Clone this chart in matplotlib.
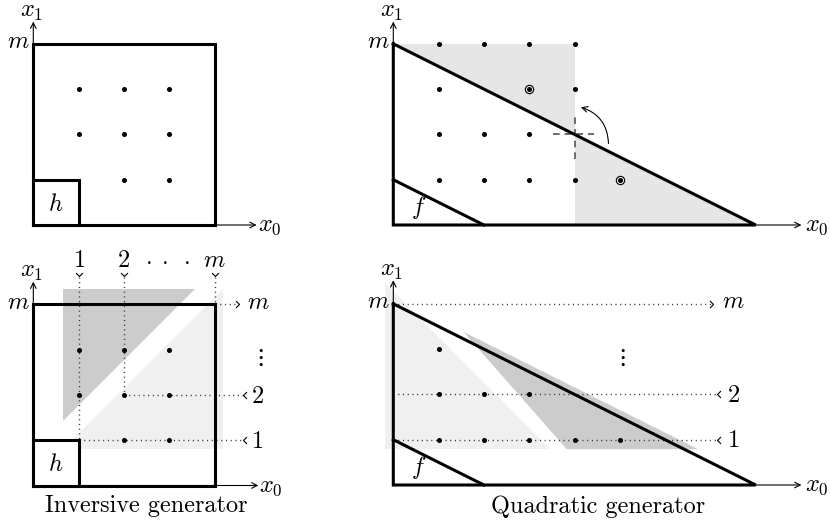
import matplotlib
matplotlib.use("Agg")
import matplotlib.pyplot as plt
from matplotlib.path import Path
from matplotlib.patches import FancyArrowPatch, Rectangle

plt.rcParams['mathtext.fontset'] = 'cm'

# ---------------- data ----------------
M = 4
# top-left (inversive, plain)
tl_dots_x = [1, 2, 3, 1, 2, 3, 2, 3]
tl_dots_y = [3, 3, 3, 2, 2, 2, 1, 1]
# top-right (quadratic, plain)
tr_dots_x = [1, 2, 3, 4, 1, 4, 1, 2, 3, 1, 2, 3, 4]
tr_dots_y = [4, 4, 4, 4, 3, 3, 2, 2, 2, 1, 1, 1, 1]
tr_circ_x = [3, 5]
tr_circ_y = [3, 1]
tr_shade1_x = [0, 4, 4]
tr_shade1_y = [4, 4, 2]
tr_shade2_x = [4, 4, 8]
tr_shade2_y = [2, 0, 0]
# bottom-left (inversive, traversal)
bl_dots_x = [1, 2, 3, 1, 2, 3, 2, 3]
bl_dots_y = [3, 3, 3, 2, 2, 2, 1, 1]
bl_idx = [1, 2, 4]
bl_labels = ['$1$', '$2$', '$m$']
bl_light_x = [0.66, 4.19, 4.19]
bl_light_y = [0.81, 0.81, 4.34]
bl_dark_x = [0.66, 0.66, 3.58]
bl_dark_y = [1.43, 4.34, 4.34]
# bottom-right (quadratic, traversal)
br_dots_x = [1, 1, 2, 3, 1, 2, 3, 4, 5]
br_dots_y = [3, 2, 2, 2, 1, 1, 1, 1, 1]
br_rows = [1, 2, 4]
br_labels = ['$1$', '$2$', '$m$']
br_light_x = [-0.18, -0.18, 3.46]
br_light_y = [4.45, 0.79, 0.79]
br_dark_x = [1.55, 3.83, 6.73]
br_dark_y = [3.38, 0.79, 0.79]
# triangle for quadratic generator: x0/2 + x1 <= m ; f: x0/2 + x1 <= 1
tri_x = [0, 0, 2 * M, 0]
tri_y = [M, 0, 0, M]
f_x = [0, 2]
f_y = [1, 0]

# ---------------- layout ----------------
W, H, DPI = 830, 522, 100
u = 45.3
fig = plt.figure(figsize=(W / DPI, H / DPI), dpi=DPI)

def panel(ox, oy, xmin, xmax, ymin, ymax):
    left = (ox + xmin * u) / W
    bot_px = oy - ymin * u
    ax = fig.add_axes([left, 1 - bot_px / H, (xmax - xmin) * u / W, (ymax - ymin) * u / H])
    ax.set_xlim(xmin, xmax)
    ax.set_ylim(ymin, ymax)
    ax.axis('off')
    return ax

FS = 17.5
THICK = 2.2
DOT = 2.6
dotted = (0, (0.8, 2.6))

def chevron(kind):
    if kind == 'v':
        v = [(-1, 1), (0, 0), (1, 1)]
    elif kind == '<':
        v = [(1, 1), (0, 0), (1, -1)]
    else:
        v = [(-1, 1), (0, 0), (-1, -1)]
    return Path(v, [Path.MOVETO, Path.LINETO, Path.LINETO])

def mark(ax, x, y, kind):
    ax.plot([x], [y], marker=chevron(kind), ms=5, mfc='none', mec='k', mew=0.8,
            ls='none', zorder=5, clip_on=False)

def axes_arrows(ax, xend, yend, xlab_x):
    ax.annotate('', xy=(xend, 0), xytext=(0, 0),
                arrowprops=dict(arrowstyle='->', lw=0.8, color='k', shrinkA=0, shrinkB=0,
                                mutation_scale=10), zorder=2)
    ax.annotate('', xy=(0, yend), xytext=(0, 0),
                arrowprops=dict(arrowstyle='->', lw=0.8, color='k', shrinkA=0, shrinkB=0,
                                mutation_scale=10), zorder=2)
    ax.text(xlab_x, 0, '$x_0$', fontsize=FS, ha='left', va='center')
    ax.text(-0.03, yend + 0.1, '$x_1$', fontsize=FS, ha='center', va='baseline')
    ax.text(-0.09, M - 0.1, '$m$', fontsize=FS, ha='right', va='baseline')

def box_panel(ax):
    ax.plot([0, M, M, 0, 0], [0, 0, M, M, 0], color='k', lw=THICK, zorder=6,
            solid_joinstyle='miter', clip_on=False)
    ax.add_patch(Rectangle((0, 0), 1, 1, facecolor='white', edgecolor='k', lw=THICK,
                           zorder=6, joinstyle='miter', clip_on=False))
    ax.text(0.5, 0.47, '$h$', fontsize=FS, ha='center', va='center', zorder=7)

def tri_panel(ax):
    ax.plot(tri_x, tri_y, color='k', lw=THICK, zorder=6, solid_joinstyle='miter',
            clip_on=False)
    ax.plot(f_x, f_y, color='k', lw=THICK, zorder=6, clip_on=False)
    ax.text(0.57, 0.38, '$f$', fontsize=FS, ha='center', va='center', zorder=7)

# ---- top-left ----
ax = panel(33.3, 225, -0.74, 6.2, -0.3, 4.95)
box_panel(ax)
ax.plot(tl_dots_x, tl_dots_y, 'o', color='k', ms=DOT, zorder=8)
axes_arrows(ax, 4.93, 4.49, 4.97)

# ---- top-right ----
ax = panel(393.3, 225, -0.8, 9.6, -0.3, 4.95)
ax.fill(tr_shade1_x, tr_shade1_y, color='#e6e6e6', lw=0, zorder=1)
ax.fill(tr_shade2_x, tr_shade2_y, color='#e6e6e6', lw=0, zorder=1)
tri_panel(ax)
ax.plot(tr_dots_x, tr_dots_y, 'o', color='k', ms=DOT, zorder=8)
ax.plot(tr_circ_x, tr_circ_y, 'o', mfc='none', mec='k', ms=6, mew=0.8, zorder=8)
ax.plot(tr_circ_x, tr_circ_y, 'o', color='k', ms=2.6, zorder=8)
ax.plot([3.53, 4.43], [2, 2], color='#555555', lw=1.2, ls=(0, (4, 3)), zorder=5)
ax.plot([4, 4], [1.45, 2.4], color='#555555', lw=1.2, ls=(0, (4, 3)), zorder=5)
ax.add_patch(FancyArrowPatch((4.75, 1.8), (4.14, 2.6), connectionstyle='arc3,rad=0.35',
                             arrowstyle='->', mutation_scale=10, lw=0.8, color='k',
                             shrinkA=0, shrinkB=0, zorder=7))
axes_arrows(ax, 9.01, 4.49, 9.09)

# ---- bottom-left ----
ax = panel(33.3, 485.5, -0.74, 6.2, -0.8, 5.3)
ax.fill(bl_light_x, bl_light_y, color='#f0f0f0', lw=0, zorder=1)
ax.fill(bl_dark_x, bl_dark_y, color='#cccccc', lw=0, zorder=1)
box_panel(ax)
for k, lab in zip(bl_idx, bl_labels):
    # vertical dotted line from label down to the diagonal
    ax.plot([k, k], [4.6, k], color='#333333', lw=1, ls=dotted, zorder=4)
    mark(ax, k, 4.63, 'v')
    ax.text(k, 4.83, lab, fontsize=FS, ha='center', va='baseline')
    # horizontal dotted line from the diagonal to the right label
    if k == M:
        ax.plot([k, 4.53], [k, k], color='#333333', lw=1, ls=dotted, zorder=4)
        mark(ax, 4.53, k, '>')
        ax.text(4.97, k - 0.1, lab, fontsize=FS, ha='center', va='baseline')
    else:
        ax.plot([k, 4.62], [k, k], color='#333333', lw=1, ls=dotted, zorder=4)
        mark(ax, 4.62, k, '<')
        ax.text(4.95, k - 0.17, lab, fontsize=FS, ha='center', va='baseline')
ax.text(2.95, 4.83, r'$\cdot\;\cdot\;\cdot$', fontsize=FS, ha='center', va='baseline')
ax.text(4.97, 2.83, r'$\vdots$', fontsize=FS, ha='center', va='center')
ax.plot(bl_dots_x, bl_dots_y, 'o', color='k', ms=DOT, zorder=8)
axes_arrows(ax, 4.97, 4.5, 4.99)
ax.text(2.49, -0.45, 'Inversive generator', fontsize=FS, family='cmr10',
        ha='center', va='center')

# ---- bottom-right ----
ax = panel(393.3, 485, -0.8, 9.6, -0.8, 5.3)
ax.fill(br_light_x, br_light_y, color='#f0f0f0', lw=0, zorder=1)
ax.fill(br_dark_x, br_dark_y, color='#cccccc', lw=0, zorder=1)
tri_panel(ax)
for r, lab in zip(br_rows, br_labels):
    if r == M:
        ax.plot([0, 7.06], [r, r], color='#333333', lw=1, ls=dotted, zorder=4)
        mark(ax, 7.06, r, '>')
        ax.text(7.5, r - 0.1, lab, fontsize=FS, ha='center', va='baseline')
    else:
        ax.plot([0, 7.14], [r, r], color='#333333', lw=1, ls=dotted, zorder=4)
        mark(ax, 7.14, r, '<')
        ax.text(7.5, r - 0.17, lab, fontsize=FS, ha='center', va='baseline')
ax.text(5.02, 2.82, r'$\vdots$', fontsize=FS, ha='center', va='center')
ax.plot(br_dots_x, br_dots_y, 'o', color='k', ms=DOT, zorder=8)
axes_arrows(ax, 9.01, 4.52, 9.09)
ax.text(4.52, -0.49, 'Quadratic generator', fontsize=FS, family='cmr10',
        ha='center', va='center')

fig.savefig('out.png', dpi=DPI)
